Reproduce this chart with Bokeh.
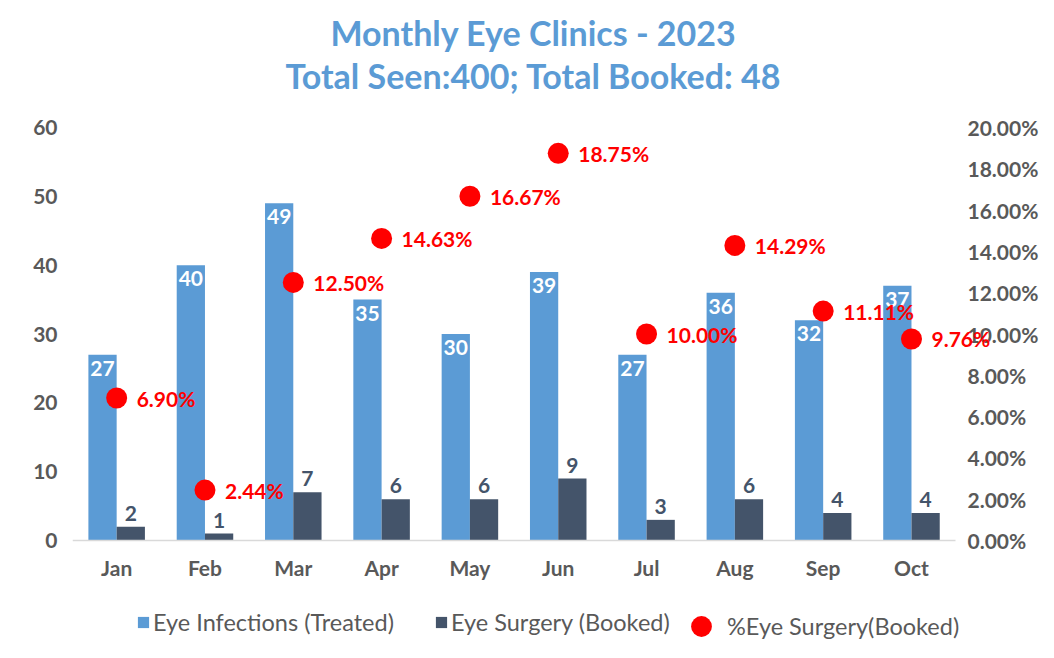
from bokeh.plotting import figure
from bokeh.models import (Range1d, LinearAxis, ColumnDataSource, LabelSet, Title,
                          Legend, LegendItem, NumeralTickFormatter, FixedTicker)
from bokeh.transform import dodge
from bokeh.core.properties import value
from bokeh.embed import file_html
from bokeh.resources import INLINE

months = ["Jan", "Feb", "Mar", "Apr", "May", "Jun", "Jul", "Aug", "Sep", "Oct"]
treated = [27, 40, 49, 35, 30, 39, 27, 36, 32, 37]
booked = [2, 1, 7, 6, 6, 9, 3, 6, 4, 4]
pct = [0.0690, 0.0244, 0.1250, 0.1463, 0.1667, 0.1875, 0.1000, 0.1429, 0.1111, 0.0976]
left_ticks = [0, 10, 20, 30, 40, 50, 60]
right_ticks = [0.0, 0.02, 0.04, 0.06, 0.08, 0.10, 0.12, 0.14, 0.16, 0.18, 0.20]
title_lines = ["Monthly Eye Clinics - 2023", "Total Seen:400; Total Booked: 48"]
series_names = ["Eye Infections (Treated)", "Eye Surgery (Booked)", "%Eye Surgery(Booked)"]

BLUE = "#5b9bd5"
DARK = "#44546a"
RED = "#ff0000"
GRAY = "#595959"
FONT = "Lato"
FS = "21px"

xs = list(range(len(months)))
src = ColumnDataSource(dict(
    x=xs, months=months, treated=treated, booked=booked, pct=pct,
    treated_lbl=[str(v) for v in treated],
    booked_lbl=[str(v) for v in booked],
    pct_lbl=[f"{v*100:.2f}%" for v in pct],
))

# frame: x 72..994 px, y 127..642 px; value 0 sits at 540 px, 60 at 127 px;
# the room under 0 holds the month labels and the legend
Y_MAX, P_MAX = 60, 0.20
Y_MIN = -Y_MAX * 102 / 413
p = figure(frame_width=922, frame_height=515, x_range=Range1d(-0.5, 9.94),
           y_range=Range1d(Y_MIN, Y_MAX), output_backend="svg", toolbar_location=None,
           min_border_left=72, min_border_right=44, min_border_top=127, min_border_bottom=0)
p.extra_y_ranges = {"pct": Range1d(Y_MIN * P_MAX / Y_MAX, P_MAX)}
p.outline_line_color = None
p.xgrid.grid_line_color = None
p.ygrid.grid_line_color = None

bw = 0.32
r1 = p.vbar(x=dodge("x", -bw / 2), top="treated", width=bw,
            source=src, fill_color=BLUE, line_color=None)
r2 = p.vbar(x=dodge("x", bw / 2), top="booked", width=bw,
            source=src, fill_color=DARK, line_color=None)
r3 = p.scatter(x="x", y="pct", y_range_name="pct", source=src, size=21,
               fill_color=RED, line_color=None)

# axes styling
xax = p.xaxis[0]
yax = p.yaxis[0]
rax = LinearAxis(y_range_name="pct", ticker=FixedTicker(ticks=right_ticks),
                 formatter=NumeralTickFormatter(format="0.00%"))
p.add_layout(rax, "right")
for ax in [xax, yax, rax]:
    ax.major_label_text_font = FONT
    ax.major_label_text_font_style = "bold"
    ax.major_label_text_font_size = FS
    ax.major_label_text_color = GRAY
    ax.major_tick_line_color = None
    ax.minor_tick_line_color = None
    ax.major_tick_out = 0
    ax.major_tick_in = 0
    ax.minor_tick_out = 0

xax.ticker = FixedTicker(ticks=xs)
xax.major_label_overrides = {i: m for i, m in zip(xs, months)}
xax.bounds = (-0.5, len(months) - 0.5)
xax.fixed_location = 0
xax.axis_line_color = "#d9d9d9"
xax.axis_line_width = 1.5
xax.major_label_standoff = 14

yax.ticker = FixedTicker(ticks=left_ticks)
yax.axis_line_color = None
yax.major_label_standoff = 15

rax.axis_line_color = None
rax.major_label_standoff = -27

# data labels
p.add_layout(LabelSet(x=dodge("x", -bw / 2), y="treated", text="treated_lbl",
                      source=src, text_align="center", text_baseline="top", y_offset=-6,
                      text_color="white", text_font=value(FONT), text_font_style="bold",
                      text_font_size=FS))
p.add_layout(LabelSet(x=dodge("x", bw / 2), y="booked", text="booked_lbl",
                      source=src, text_align="center", text_baseline="bottom", y_offset=6,
                      text_color=DARK, text_font=value(FONT), text_font_style="bold",
                      text_font_size=FS))
p.add_layout(LabelSet(x="x", y="pct", y_range_name="pct", text="pct_lbl", source=src,
                      text_align="left", text_baseline="middle", x_offset=20,
                      text_color=RED, text_font=value(FONT), text_font_style="bold",
                      text_font_size=FS))

# titles (first added sits closest to the plot); a blank spacer first
p.add_layout(Title(text=" ", text_font_size="10px", standoff=19), "above")
p.add_layout(Title(text=title_lines[1], align="center", standoff=0,
                   text_color=BLUE, text_font=FONT, text_font_style="bold",
                   text_font_size="34px"), "above")
p.add_layout(Title(text=title_lines[0], align="center", standoff=0,
                   text_color=BLUE, text_font=FONT, text_font_style="bold",
                   text_font_size="34px"), "above")

# legends inside the frame, under the month labels
leg_style = dict(orientation="horizontal", padding=0, margin=0, label_height=20,
                 border_line_color=None, background_fill_alpha=0,
                 label_text_font=FONT, label_text_font_size="23.5px",
                 label_text_color=GRAY)
leg1 = Legend(items=[LegendItem(label=series_names[0], renderers=[r1]),
                     LegendItem(label=series_names[1], renderers=[r2])],
              location=(64, 6), glyph_width=14, glyph_height=14,
              label_standoff=3, spacing=40, **leg_style)
leg2 = Legend(items=[LegendItem(label=series_names[2], renderers=[r3])],
              location=(603, -10), glyph_width=52, glyph_height=52,
              label_standoff=0, spacing=0, **leg_style)
p.add_layout(leg1)
p.add_layout(leg2)

open("out.html", "w").write(file_html(p, INLINE))
